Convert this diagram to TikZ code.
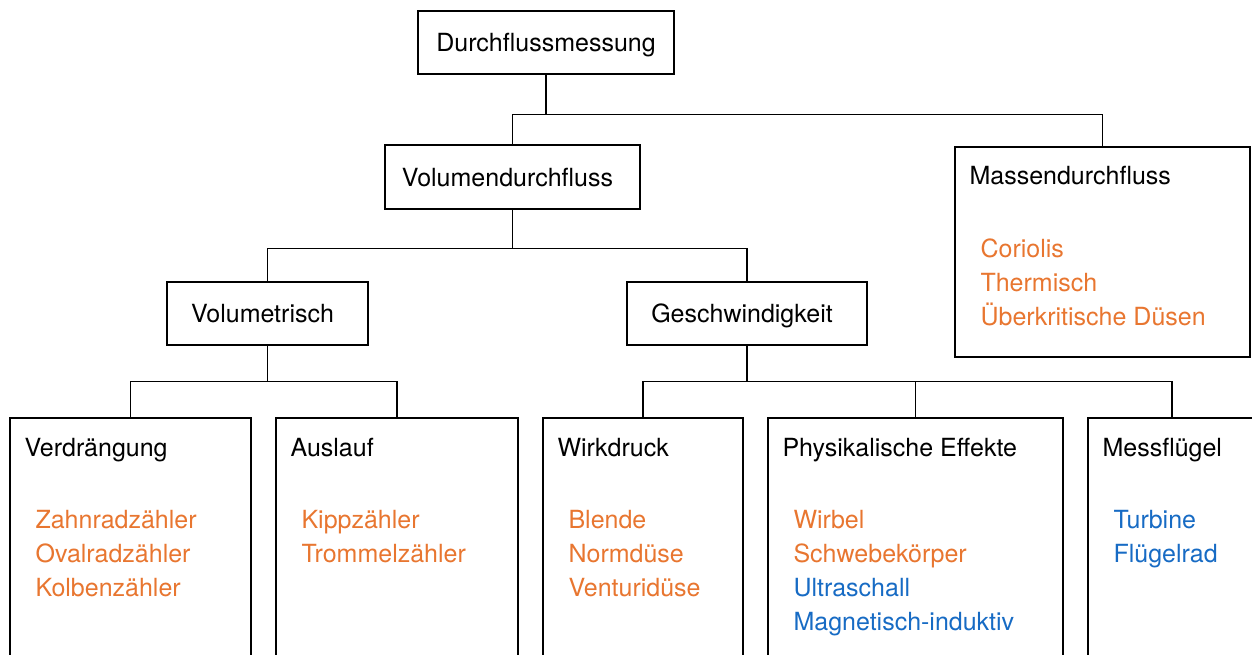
\documentclass[tikz,border=0pt]{standalone}
\usepackage{fontspec}
\setmainfont{TeX Gyre Heros}
\definecolor{itemorange}{RGB}{232,118,48}
\definecolor{itemblue}{RGB}{23,107,196}
\newcommand{\og}[1]{\textcolor{itemorange}{#1}}
\newcommand{\bl}[1]{\textcolor{itemblue}{#1}}

\begin{document}
\begin{tikzpicture}[x=1pt,y=-1pt,
  every node/.style={font=\fontsize{25}{34}\selectfont},
  box/.style={draw,line width=1.3pt,rectangle,inner sep=0pt,text depth=0pt},
  title/.style={anchor=base west,inner sep=0pt},
  items/.style={anchor=base west,inner sep=0pt},
  link/.style={line width=1.3pt}]
\useasboundingbox (0,0) rectangle (1252,655);
\clip (0,0) rectangle (1252,655);
\node[box,minimum width=256pt,minimum height=63pt] (dfm)  at (546,42.5)   {Durchflussmessung};
\node[box,minimum width=255pt,minimum height=64pt] (vol)  at (512.5,177)  {Volumendurchfluss\hspace*{10pt}};
\node[box,minimum width=295pt,minimum height=210pt] (mass) at (1102.5,252) {};
\node[box,minimum width=201pt,minimum height=63pt] (vmt)  at (267.5,313.5) {Volumetrisch\hspace*{10pt}};
\node[box,minimum width=240pt,minimum height=63pt] (gsw)  at (747,313.5)   {Geschwindigkeit\hspace*{10pt}};
\node[box,minimum width=241pt,minimum height=282pt] (verd) at (130.5,559)  {};
\node[box,minimum width=242pt,minimum height=282pt] (ausl) at (397,559)    {};
\node[box,minimum width=200pt,minimum height=282pt] (wirk) at (643,559)    {};
\node[box,minimum width=295pt,minimum height=282pt] (phys) at (915.5,559)  {};
\node[box,minimum width=168pt,minimum height=282pt] (mfl)  at (1172,559)   {};

\node[title] (masst) at ([shift={(15,38)}]mass.north west) {Massendurchfluss};
\node[title] (verdt) at ([shift={(15,39)}]verd.north west) {Verdrängung};
\node[title] (auslt) at ([shift={(15,39)}]ausl.north west) {Auslauf};
\node[title] (wirkt) at ([shift={(15,39)}]wirk.north west) {Wirkdruck};
\node[title] (physt) at ([shift={(15,39)}]phys.north west) {Physikalische Effekte};
\node[title] (mflt)  at ([shift={(15,39)}]mfl.north west)  {Messflügel};

\node[items] (massi) at ([shift={(26,111)}]mass.north west) {\begin{tabular}[t]{@{}l@{}}\og{Coriolis}\\\og{Thermisch}\\\og{Überkritische Düsen}\end{tabular}};
\node[items] (verdi) at ([shift={(26,111)}]verd.north west) {\begin{tabular}[t]{@{}l@{}}\og{Zahnradzähler}\\\og{Ovalradzähler}\\\og{Kolbenzähler}\end{tabular}};
\node[items] (ausli) at ([shift={(26,111)}]ausl.north west) {\begin{tabular}[t]{@{}l@{}}\og{Kippzähler}\\\og{Trommelzähler}\end{tabular}};
\node[items] (wirki) at ([shift={(26,111)}]wirk.north west) {\begin{tabular}[t]{@{}l@{}}\og{Blende}\\\og{Normdüse}\\\og{Venturidüse}\end{tabular}};
\node[items] (physi) at ([shift={(26,111)}]phys.north west) {\begin{tabular}[t]{@{}l@{}}\og{Wirbel}\\\og{Schwebekörper}\\\bl{Ultraschall}\\\bl{Magnetisch-induktiv}\end{tabular}};
\node[items] (mfli)  at ([shift={(26,111)}]mfl.north west)  {\begin{tabular}[t]{@{}l@{}}\bl{Turbine}\\\bl{Flügelrad}\end{tabular}};

\draw[link,line width=2pt] (dfm.south) -- ++(0,40);
\draw[link] (dfm.south) -- ++(0,40) -| (vol.north);
\draw[link] (dfm.south) -- ++(0,40) -| (mass.north);
\draw[link] (vol.south) -- ++(0,39) -| (vmt.north);
\draw[link] (vol.south) -- ++(0,39) -| (gsw.north);
\draw[link] (vmt.south) -- ++(0,36) -| (verd.north);
\draw[link] (vmt.south) -- ++(0,36) -| (ausl.north);
\draw[link] (gsw.south) -- ++(0,36) -| (wirk.north);
\draw[link] (gsw.south) -- ++(0,36) -| (phys.north);
\draw[link] (gsw.south) -- ++(0,36) -| (mfl.north);
\end{tikzpicture}
\end{document}
